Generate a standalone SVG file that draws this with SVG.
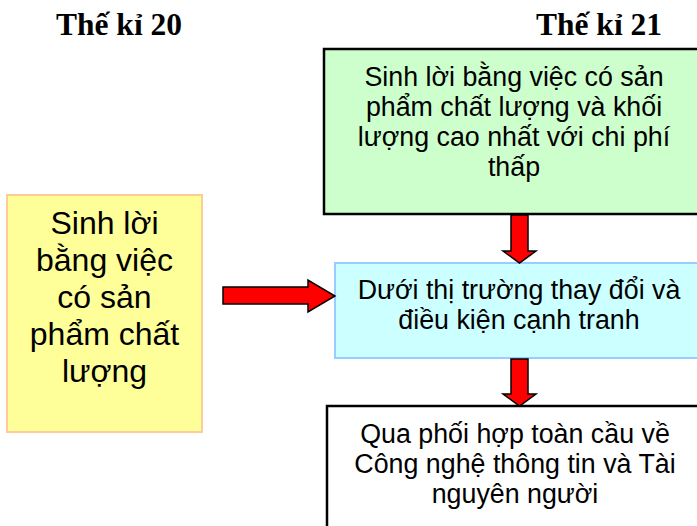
<svg xmlns="http://www.w3.org/2000/svg" width="697" height="526" viewBox="0 0 697 526">
<style>
.title{font-family:"Liberation Serif",serif;font-weight:bold;font-size:31px;fill:#000}
.t{font-family:"Liberation Sans",Arial,sans-serif;font-size:26.8px;fill:#000;text-anchor:middle}
.ty{font-family:"Liberation Sans",Arial,sans-serif;font-size:32px;fill:#000;text-anchor:middle}
.arrow{fill:#ff0000;stroke:#000;stroke-width:1.5;stroke-linejoin:miter}
</style>
<rect width="697" height="526" fill="#fff"/>
<text class="title" x="56" y="35" textLength="126" lengthAdjust="spacingAndGlyphs">Thế kỉ 20</text>
<text class="title" x="536" y="35" textLength="126" lengthAdjust="spacingAndGlyphs">Thế kỉ 21</text>
<g id="node-yellow">
<rect x="7" y="195" width="195" height="237" fill="#ffff99" stroke="#ffcc99" stroke-width="2"/>
<text class="ty" x="104.5" y="234">Sinh lời</text>
<text class="ty" x="104.5" y="271">bằng việc</text>
<text class="ty" x="104.5" y="308">có sản</text>
<text class="ty" x="104.5" y="345">phẩm chất</text>
<text class="ty" x="104.5" y="382">lượng</text>
</g>
<g id="node-green">
<rect x="324" y="49" width="380" height="165" fill="#ccffcc" stroke="#000" stroke-width="2.5"/>
<text class="t" x="514" y="86">Sinh lời bằng việc có sản</text>
<text class="t" x="514" y="116">phẩm chất lượng và khối</text>
<text class="t" x="514" y="146">lượng cao nhất với chi phí</text>
<text class="t" x="514" y="176">thấp</text>
</g>
<g id="node-blue">
<rect x="335" y="263" width="370" height="95" fill="#ccffff" stroke="#99ccff" stroke-width="2"/>
<text class="t" x="519" y="299">Dưới thị trường thay đổi và</text>
<text class="t" x="519" y="329">điều kiện cạnh tranh</text>
</g>
<g id="node-white">
<rect x="327" y="406" width="378" height="130" fill="#ffffff" stroke="#000" stroke-width="2.5"/>
<text class="t" x="515" y="443">Qua phối hợp toàn cầu về</text>
<text class="t" x="515" y="473">Công nghệ thông tin và Tài</text>
<text class="t" x="515" y="503">nguyên người</text>
</g>
<g id="connectors">
<polygon class="arrow" points="223,287 308,287 308,280 335,296 308,312 308,304 223,304"/>
<polygon class="arrow" points="511,215 528,215 528,251 536,251 519.5,263 503,251 511,251"/>
<polygon class="arrow" points="511,359 528,359 528,394 536,394 519.5,406 503,394 511,394"/>
</g>
</svg>
